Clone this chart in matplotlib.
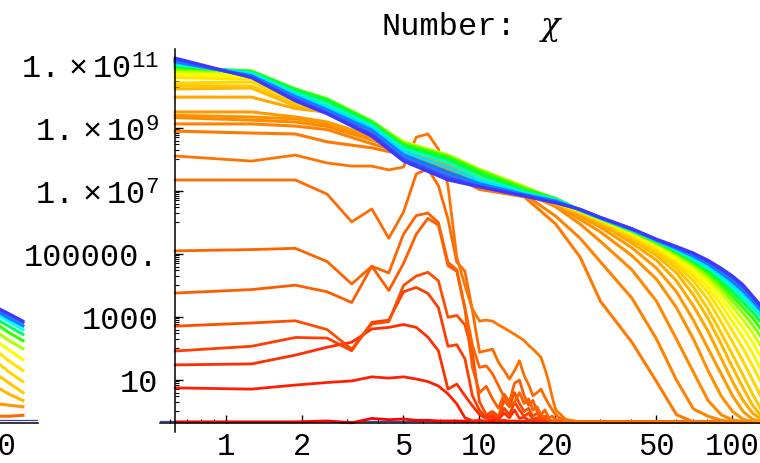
import numpy as np
import matplotlib.pyplot as plt
from matplotlib.colors import hsv_to_rgb
from matplotlib.ticker import FixedLocator, NullFormatter, FixedFormatter

plt.rcParams['font.family'] = ['Liberation Mono', 'DejaVu Sans Mono']
plt.rcParams['mathtext.fontset'] = 'custom'
plt.rcParams['mathtext.rm'] = 'Liberation Mono'
plt.rcParams['mathtext.it'] = 'Liberation Serif:italic'

# ---------------- data (log10 of the number) ----------------
# k grid used by the low (red / orange) curves
x_low = [0.63, 1.26, 1.88, 2.51, 3.14, 3.77, 4.40, 5.03, 5.65, 6.28, 6.91, 7.54, 8.17,
         8.80, 9.42, 10.05, 10.68, 11.31, 11.94, 12.57, 13.19, 13.82, 14.45, 15.08,
         15.71, 16.34, 16.96, 17.59, 18.22, 18.85, 19.48, 20.11, 20.73, 21.36, 21.99,
         25.1, 40.2, 130.7]

r0 = [-0.33, -0.33, -0.33, -0.30, -0.36, -0.22, -0.26, -0.24, -0.28, -0.28, -0.30, -0.30, -0.30,
      -0.31, -0.31, -0.32, -0.32, -0.32, -0.33, -0.33, -0.33, -0.33, -0.33, -0.33,
      -0.33, -0.33, -0.33, -0.33, -0.33, -0.33, -0.33, -0.33, -0.33, -0.33, -0.33,
      -0.33, -0.33, -0.33]
r1 = [0.75, 0.71, 0.84, 0.92, 0.97, 1.10, 1.06, 1.10, 1.03, 0.95, 0.81, 0.56, 0.24,
      -0.20, -0.30, -0.28, -0.31, -0.25, -0.30, -0.28, -0.31, -0.30, -0.32, -0.31,
      -0.32, -0.33, -0.33, -0.33, -0.33, -0.33, -0.33, -0.33, -0.33, -0.33, -0.33,
      -0.33, -0.33, -0.33]
s366 = [1.48, 1.51, 1.79, 2.04, 2.20, 2.62, 2.67, 2.76, 2.67, 2.36, 1.93, 0.71, 0.87,
        0.50, 0.18, -0.10, -0.22, -0.15, -0.25, -0.05, -0.20, 0.05, -0.22, -0.18,
        -0.28, -0.25, -0.30, -0.29, -0.31, -0.32, -0.33, -0.33, -0.33, -0.33, -0.33,
        -0.33, -0.33, -0.33]
s352 = [1.92, 2.07, 2.35, 2.33, 1.93, 2.83, 2.90, 3.80, 3.94, 3.75, 3.30, 2.07, 2.12,
        1.67, 0.50, 0.03, -0.18, -0.05, -0.20, 0.10, -0.10, 0.30, 0.05, -0.15,
        -0.05, -0.25, -0.20, -0.28, -0.25, -0.30, -0.31, -0.32, -0.33, -0.33, -0.33,
        -0.33, -0.33, -0.33]
s327 = [2.71, 2.81, 2.88, 2.60, 1.98, 2.78, 2.85, 4.00, 4.30, 4.42, 4.15, 2.99, 3.05,
        2.75, 1.85, 0.30, -0.10, 0.00, -0.15, 0.35, 0.15, 0.60, 0.25, 0.00,
        0.10, -0.15, -0.05, -0.22, -0.15, -0.28, -0.30, -0.31, -0.32, -0.33, -0.33,
        -0.33, -0.33, -0.33]
s294 = [3.76, 3.87, 4.01, 3.80, 3.46, 4.61, 3.84, 4.70, 5.63, 6.13, 5.92, 4.63, 4.45,
        3.25, 1.40, 0.60, 0.80, 0.40, 0.10, 0.55, 0.30, 0.90, 1.00, 0.50,
        0.20, 0.35, 0.00, -0.10, -0.20, -0.25, -0.30, -0.31, -0.32, -0.33, -0.33,
        -0.33, -0.33, -0.33]
s252 = [5.10, 5.14, 5.18, 4.76, 4.05, 4.61, 4.40, 5.63, 6.22, 6.30, 6.00, 4.74, 4.50,
        3.30, 2.10, 1.40, 1.45, 1.20, 0.82, 0.45, 0.18, 0.30, 0.60, 0.25,
        0.40, 0.05, 0.15, -0.10, 0.05, -0.20, -0.15, -0.25, -0.28, -0.30, -0.32,
        -0.33, -0.33, -0.33]
p2 = [7.35, 7.35, 7.35, 6.90, 6.02, 6.43, 5.50, 6.33, 7.54, 7.70, 7.17, 6.11, 4.74,
      4.45, 3.20, 1.88, 1.93, 1.98, 1.56, 1.30, 1.03, 1.30, 1.61, 1.14,
      0.85, 0.50, 0.60, 0.71, 0.45, 0.24, 0.05, -0.10, -0.19, -0.25, -0.30,
      -0.33, -0.33, -0.33]
p1 = [8.11, 7.95, 8.14, 7.89, 7.79, 7.79, 7.67, 7.76, 8.71, 8.81, 8.33, 7.17, 4.90,
      4.00, 3.25, 2.87, 2.90, 2.87, 2.75, 2.65, 2.55, 2.45, 2.35, 2.25,
      2.10, 1.98, 1.85, 1.72, 1.35, 0.95, 0.45, 0.05, -0.05, -0.15, -0.25,
      -0.33, -0.33, -0.33]
low_curves = [r0, r1, s366, s352, s327, s294, s252, p2, p1]
low_hues = [0.0, 0.02, 0.03, 0.04, 0.05, 0.06, 0.065, 0.07, 0.075]

# grid of the upper band of curves
x_band = [0.63, 1.26, 1.88, 2.51, 3.77, 5.03, 7.54, 10.05, 15.08, 20.1, 25.1, 30.2, 40.2,
          50.3, 60.3, 70.4, 80.4, 90.5, 100.5, 110.6, 120.6, 130.7]
band = [
    [8.90, 8.84, 8.81, 8.56, 8.37, 8.15, 7.55, 7.05, 6.82, 5.95, 4.90, 3.50, 2.20, 0.95, -0.10, -0.33, -0.33, -0.33, -0.33, -0.33, -0.33, -0.33],
    [9.13, 9.13, 9.06, 8.95, 8.50, 8.22, 7.60, 7.10, 6.90, 6.20, 5.50, 4.75, 3.60, 2.30, 1.00, 0.08, -0.15, -0.28, -0.33, -0.33, -0.33, -0.33],
    [9.33, 9.25, 9.19, 9.05, 8.62, 8.28, 7.70, 7.20, 6.95, 6.50, 5.95, 5.40, 4.50, 3.50, 2.30, 1.25, 0.35, -0.10, -0.27, -0.32, -0.33, -0.33],
    [9.40, 9.35, 9.29, 9.13, 8.68, 8.32, 7.78, 7.28, 7.00, 6.55, 6.10, 5.70, 4.95, 4.20, 3.30, 2.30, 1.30, 0.50, 0.00, -0.25, -0.32, -0.33],
    [9.51, 9.51, 9.35, 9.19, 8.75, 8.36, 7.85, 7.35, 7.03, 6.58, 6.20, 5.85, 5.20, 4.55, 3.80, 2.90, 2.00, 1.20, 0.50, 0.00, -0.25, -0.32],
    [9.98, 9.98, 9.62, 9.50, 8.95, 8.42, 7.92, 7.42, 7.06, 6.60, 6.25, 5.95, 5.35, 4.80, 4.15, 3.35, 2.55, 1.70, 0.95, 0.35, -0.05, -0.25],
    [10.24, 10.27, 9.70, 9.55, 9.00, 8.46, 7.98, 7.48, 7.08, 6.60, 6.30, 6.00, 5.45, 4.95, 4.40, 3.70, 2.95, 2.15, 1.40, 0.75, 0.20, -0.15],
    [10.35, 10.33, 9.78, 9.60, 9.05, 8.50, 8.03, 7.54, 7.10, 6.61, 6.32, 6.03, 5.52, 5.05, 4.55, 3.95, 3.25, 2.50, 1.80, 1.15, 0.55, 0.05],
    [10.43, 10.46, 9.85, 9.66, 9.10, 8.53, 8.07, 7.59, 7.12, 6.63, 6.34, 6.06, 5.58, 5.13, 4.67, 4.15, 3.55, 2.85, 2.20, 1.60, 1.00, 0.45],
    [10.60, 10.55, 9.92, 9.72, 9.13, 8.55, 8.10, 7.63, 7.13, 6.65, 6.35, 6.08, 5.62, 5.19, 4.76, 4.30, 3.78, 3.15, 2.55, 2.00, 1.45, 0.90],
    [10.68, 10.62, 10.00, 9.78, 9.16, 8.56, 8.12, 7.66, 7.14, 6.67, 6.36, 6.09, 5.65, 5.24, 4.83, 4.42, 3.95, 3.40, 2.85, 2.35, 1.85, 1.30],
    [10.74, 10.70, 10.08, 9.84, 9.19, 8.56, 8.14, 7.68, 7.14, 6.70, 6.37, 6.10, 5.68, 5.28, 4.90, 4.52, 4.10, 3.60, 3.10, 2.65, 2.20, 1.70],
    [10.80, 10.76, 10.14, 9.88, 9.21, 8.55, 8.14, 7.69, 7.13, 6.72, 6.38, 6.11, 5.70, 5.32, 4.95, 4.60, 4.22, 3.78, 3.32, 2.90, 2.50, 2.05],
    [10.86, 10.80, 10.20, 9.92, 9.22, 8.52, 8.12, 7.67, 7.11, 6.75, 6.38, 6.12, 5.72, 5.35, 5.00, 4.67, 4.32, 3.92, 3.50, 3.12, 2.75, 2.35],
    [10.92, 10.81, 10.24, 9.92, 9.20, 8.48, 8.08, 7.62, 7.07, 6.76, 6.39, 6.13, 5.74, 5.38, 5.05, 4.73, 4.41, 4.04, 3.66, 3.30, 2.97, 2.60],
    [10.97, 10.78, 10.20, 9.85, 9.15, 8.42, 8.00, 7.54, 7.01, 6.75, 6.39, 6.13, 5.75, 5.40, 5.09, 4.78, 4.49, 4.15, 3.80, 3.46, 3.15, 2.82],
    [11.02, 10.74, 10.12, 9.75, 9.08, 8.35, 7.90, 7.42, 6.96, 6.72, 6.40, 6.14, 5.76, 5.42, 5.12, 4.83, 4.56, 4.24, 3.92, 3.60, 3.30, 3.00],
    [11.06, 10.70, 10.06, 9.65, 9.00, 8.25, 7.75, 7.32, 6.92, 6.70, 6.40, 6.14, 5.77, 5.43, 5.15, 4.88, 4.62, 4.33, 4.03, 3.73, 3.43, 3.12],
    [11.10, 10.66, 10.00, 9.58, 8.93, 8.15, 7.60, 7.23, 6.89, 6.68, 6.40, 6.15, 5.78, 5.44, 5.18, 4.93, 4.68, 4.40, 4.12, 3.83, 3.52, 3.20],
    [11.14, 10.63, 9.95, 9.52, 8.86, 8.07, 7.50, 7.18, 6.87, 6.66, 6.41, 6.15, 5.79, 5.45, 5.20, 4.97, 4.73, 4.46, 4.20, 3.90, 3.58, 3.26],
    [11.18, 10.61, 9.90, 9.48, 8.80, 8.00, 7.42, 7.15, 6.85, 6.64, 6.41, 6.16, 5.80, 5.46, 5.22, 5.00, 4.77, 4.51, 4.26, 3.97, 3.63, 3.30],
    [11.22, 10.60, 9.86, 9.45, 8.74, 7.95, 7.35, 7.13, 6.84, 6.62, 6.42, 6.16, 5.80, 5.47, 5.24, 5.03, 4.80, 4.55, 4.30, 4.02, 3.67, 3.34],
]
band_hues = [0.08, 0.085, 0.09, 0.095, 0.10, 0.11, 0.12, 0.13, 0.14, 0.15, 0.16, 0.17,
             0.20, 0.25, 0.30, 0.38, 0.46, 0.52, 0.58, 0.62, 0.65, 0.67]

# neighbouring panel, only its right end is visible
x_left = [106, 120, 136]
left_curves = [
    [-0.15, -0.15, -0.12], [0.25, 0.20, 0.15], [0.80, 0.55, 0.35], [1.20, 0.90, 0.60],
    [1.60, 1.25, 0.95], [1.95, 1.60, 1.30], [2.25, 1.95, 1.65], [2.55, 2.25, 2.00],
    [2.80, 2.50, 2.25], [2.95, 2.70, 2.45], [3.10, 2.85, 2.60], [3.20, 2.95, 2.72],
    [3.28, 3.05, 2.82], [3.32, 3.10, 2.87],
]
left_hues = [0.07, 0.1, 0.12, 0.13, 0.14, 0.15, 0.17, 0.22, 0.3, 0.4, 0.5, 0.58, 0.63, 0.67]

x_ticks = [1, 2, 5, 10, 20, 50, 100]
y_ticks_exp = [11, 9, 7, 5, 3, 1]
y_tick_labels = [r'$1.\times10^{11}$', r'$1.\times10^{9}$', r'$1.\times10^{7}$',
                 '100000.', '1000', '10']

# ---------------- layout helpers ----------------
W, H = 760, 464
PX_DEC = 253.0


def box(x0, x1, y0, y1):
    return [x0 / W, 1 - y1 / H, (x1 - x0) / W, (y1 - y0) / H]


def hue(h):
    s = 0.78 if h > 0.6 else 1.0
    return hsv_to_rgb((h, s, 1.0))


fig = plt.figure(figsize=(7.6, 4.64), dpi=100)
ylim = (10 ** -0.651, 10 ** 11.508)
y_axis_at = 10 ** -0.365

# neighbouring panel, cut by the left edge of the picture (drawn first, no background)
ax2 = fig.add_axes(box(-400, 38, 50, 433))
ax2.patch.set_visible(False)
ax2.set_xscale('log')
ax2.set_yscale('log')
ax2.set_xlim(156 / 10 ** (438 / PX_DEC), 156)
ax2.set_ylim(*ylim)
ax2.axhline(10 ** -0.27, color='#3346a8', lw=0.9, zorder=1)
for vals, h in zip(left_curves, left_hues):
    ax2.plot(x_left, 10 ** np.array(vals), color=hue(h), lw=2.2)
for s in ['top', 'right', 'left']:
    ax2.spines[s].set_visible(False)
ax2.spines['bottom'].set_position(('data', y_axis_at))
ax2.spines['bottom'].set_linewidth(1.1)
ax2.xaxis.set_major_locator(FixedLocator([100]))
ax2.xaxis.set_major_formatter(FixedFormatter(['100']))
ax2.xaxis.set_minor_locator(FixedLocator([]))
ax2.yaxis.set_major_locator(FixedLocator([]))
ax2.yaxis.set_minor_locator(FixedLocator([]))
ax2.tick_params(which='major', direction='in', length=6, labelsize=22, pad=6)

# main panel
ax = fig.add_axes(box(160, 760, 50, 433))
ax.patch.set_visible(False)
ax.set_xscale('log')
ax.set_yscale('log')
ax.set_xlim(10 ** ((160 - 226) / PX_DEC), 10 ** ((760 - 226) / PX_DEC))
ax.set_ylim(*ylim)
ax.axhline(10 ** -0.29, color='#3346a8', lw=0.9, zorder=1)

for vals, h in zip(low_curves, low_hues):
    ax.plot(x_low, 10 ** np.array(vals), color=hue(h), lw=2.0, zorder=2)
for vals, h in zip(band, band_hues):
    ax.plot(x_band, 10 ** np.array(vals), color=hue(h), lw=2.2, zorder=2)

for s in ['top', 'right']:
    ax.spines[s].set_visible(False)
ax.spines['left'].set_position(('data', 0.63))
ax.spines['bottom'].set_position(('data', y_axis_at))
for s in ['left', 'bottom']:
    ax.spines[s].set_linewidth(1.1)
    ax.spines[s].set_zorder(3)

ax.xaxis.set_major_locator(FixedLocator(x_ticks))
ax.xaxis.set_major_formatter(FixedFormatter([str(v) for v in x_ticks]))
ax.xaxis.set_minor_locator(FixedLocator([0.6, 0.7, 0.8, 0.9, 3, 4, 6, 7, 8, 9,
                                         30, 40, 60, 70, 80, 90]))
ax.xaxis.set_minor_formatter(NullFormatter())
ax.yaxis.set_major_locator(FixedLocator([10.0 ** e for e in y_ticks_exp]))
ax.yaxis.set_major_formatter(FixedFormatter(y_tick_labels))
y_minor = [10.0 ** e for e in [10, 8, 6, 4, 2, 0]]
for e in y_ticks_exp:
    y_minor += [k * 10.0 ** (e - 1) for k in range(2, 10)]
ax.yaxis.set_minor_locator(FixedLocator(y_minor))
ax.yaxis.set_minor_formatter(NullFormatter())
ax.tick_params(which='major', direction='in', length=6, width=1)
ax.tick_params(which='minor', direction='in', length=3, width=0.8)
ax.tick_params(axis='y', which='major', pad=12, labelsize=23)
ax.tick_params(axis='x', which='major', pad=6, labelsize=22)

# title
fig.text(382 / W, 1 - 35 / H, 'Number:', fontsize=23, family='Liberation Mono',
         ha='left', va='baseline')
fig.text(541 / W, 1 - 35 / H, '\u03c7', fontsize=23, family='DejaVu Serif',
         style='italic', ha='left', va='baseline')

fig.savefig('out.png', dpi=100)
